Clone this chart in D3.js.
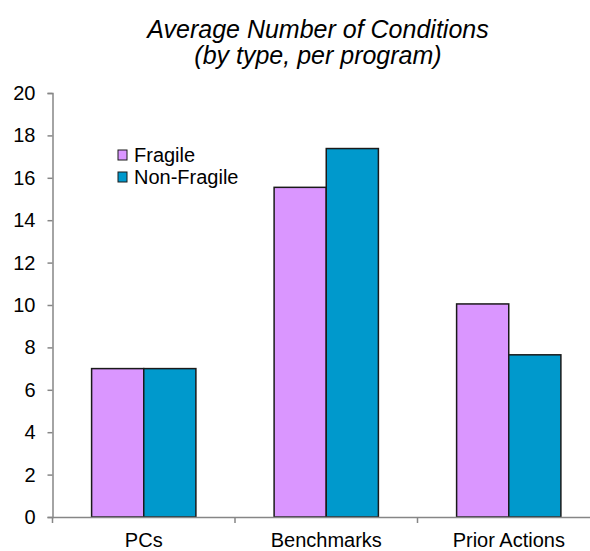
<!DOCTYPE html>
<html><head><meta charset="utf-8">
<script src="https://cdn.jsdelivr.net/npm/d3@7"></script>
<style>body{margin:0;background:#fff}svg{display:block}text{font-family:"Liberation Sans",Arial,sans-serif;fill:#000}</style>
</head><body><svg id="c" width="590" height="551"></svg>
<script>
const categories = ["PCs", "Benchmarks", "Prior Actions"];
const seriesNames = ["Fragile", "Non-Fragile"];
const fragile = [7.0, 15.55, 10.05];
const nonFragile = [7.0, 17.38, 7.65];
const yTicks = [0, 2, 4, 6, 8, 10, 12, 14, 16, 18, 20];
const colors = ["#DA96FF", "#0099CC"];
const titleLines = ["Average Number of Conditions", "(by type, per program)"];

const svg = d3.select("#c");
const x0 = 52.5, x1 = 600, yB = 517, yT = 93;
const x = d3.scaleBand().domain(categories).range([x0, x1]).padding(0);
const y = d3.scaleLinear().domain([0, 20]).range([yB, yT]);
const bw = x.bandwidth() / 3.5;
const xs = d3.scaleBand().domain(seriesNames).range([0.75 * bw, 2.75 * bw]).padding(0);

// title
svg.append("g").selectAll("text").data(titleLines).join("text")
  .attr("x", 318).attr("y", (d, i) => 38 + i * 26)
  .attr("text-anchor", "middle").style("font-style", "italic").style("font-size", "25px")
  .text(d => d);

// bars
const series = [fragile, nonFragile];
series.forEach((vals, si) => {
  svg.append("g").selectAll("rect").data(vals).join("rect")
    .attr("x", (d, i) => x(categories[i]) + xs(seriesNames[si]))
    .attr("width", xs.bandwidth())
    .attr("y", d => y(d)).attr("height", d => yB - y(d))
    .attr("fill", colors[si]).attr("stroke", "#1a1a1a").attr("stroke-width", 1.5);
});

// y axis
const ya = svg.append("g").attr("transform", `translate(${x0},0)`)
  .call(d3.axisLeft(y).tickValues(yTicks).tickSize(5).tickPadding(12).tickFormat(d3.format("d")));
ya.select(".domain").attr("stroke", "#868686").attr("stroke-width", 1.5);
ya.selectAll(".tick line").attr("stroke", "#868686").attr("stroke-width", 1.5);
ya.selectAll(".tick text").style("font-size", "20px").style("font-family", "Liberation Sans, Arial, sans-serif").attr("fill", "#000");

// x axis
const xa = svg.append("g").attr("transform", `translate(0,${yB})`)
  .call(d3.axisBottom(x).tickSize(0).tickPadding(16));
xa.select(".domain").attr("stroke", "#868686").attr("stroke-width", 1.5);
xa.selectAll(".tick text").style("font-size", "20px").style("font-family", "Liberation Sans, Arial, sans-serif").attr("fill", "#000");
xa.selectAll(".tick line").remove();
// category boundary ticks
const bounds = categories.map(c => x(c)).concat([x1]);
xa.selectAll("line.bt").data(bounds).join("line").attr("class", "bt")
  .attr("x1", d => d).attr("x2", d => d).attr("y1", 0).attr("y2", 6)
  .attr("stroke", "#868686").attr("stroke-width", 1.5);

// legend
const lg = svg.append("g").selectAll("g").data(seriesNames).join("g")
  .attr("transform", (d, i) => `translate(118,${150 + i * 22})`);
lg.append("rect").attr("width", 9).attr("height", 10)
  .attr("fill", (d, i) => colors[i]).attr("stroke", "#1a1a1a").attr("stroke-width", 1);
lg.append("text").attr("x", 16).attr("y", 12).style("font-size", "20px").text(d => d);
</script></body></html>
